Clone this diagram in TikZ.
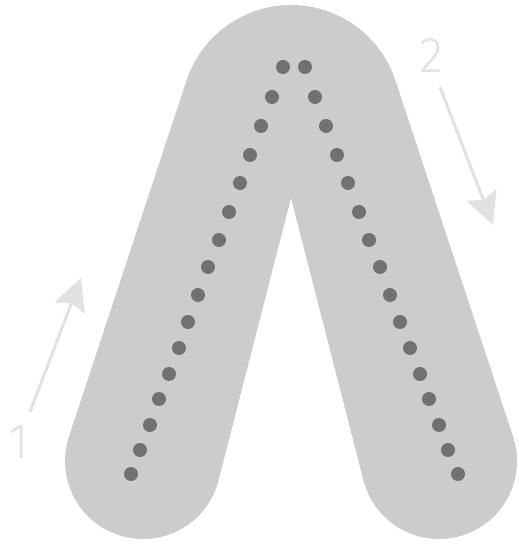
\documentclass[tikz,border=0pt]{standalone}
\usepackage{fontspec}
\newfontfamily\labelfont{Fira Sans Light}
\usetikzlibrary{calc,arrows.meta}
\definecolor{bandgray}{HTML}{CCCCCC}
\definecolor{dotgray}{HTML}{717171}
\definecolor{palegray}{HTML}{E2E2E2}
\tikzset{
  band/.style={fill=bandgray, draw=none},
  dotmark/.style={fill=dotgray, draw=none},
  flowarrow/.style={draw=palegray, line width=3pt,
    -{Stealth[length=32pt, width=32pt, inset=5pt]}},
  steplabel/.style={text=palegray, font=\labelfont\fontsize{50}{50}\selectfont, inner sep=0pt}
}
\begin{document}
\begin{tikzpicture}[x=1pt,y=1pt]
\useasboundingbox (0,0) rectangle (519,544);
% geometry (y measured upward)
\coordinate (T) at (291,429);
\coordinate (CL) at (143,83);
\coordinate (CR) at (439,83);
\coordinate (A) at (291,346);
% the inverted V band
\fill[band] (A) -- ($(CL)+(-13.8:78)$) arc[start angle=-13.8, end angle=-198, radius=78]
  -- ($(T)+(162:110)$) arc[start angle=162, end angle=18, radius=110]
  -- ($(CR)+(18:78)$) arc[start angle=18, end angle=-166.2, radius=78]
  -- cycle;
% dotted paths
\foreach \yy/\xl/\xr in {67/283/305, 97/272/315, 126/261/326, 155/250/337,
  183/240/348, 212/229/359, 240/219/369, 267/208/380, 295/198/390,
  322/188/400, 348/179/410, 374/169/420, 399/159/429, 425/150/439,
  450/140/448, 474/131/458}{
  \fill[dotmark] (\xl,544-\yy) circle (7);
  \fill[dotmark] (\xr,544-\yy) circle (7);
}
% step labels and arrows
\node[steplabel] (one) at (19,102) {1};
\node[steplabel] (two) at (431,488) {2};
\coordinate (a1s) at (30,132);
\coordinate (a1e) at (81,266);
\coordinate (a2s) at (440,457);
\coordinate (a2e) at (493,319);
\draw[flowarrow] (a1s) -- (a1e);
\draw[flowarrow] (a2s) -- (a2e);
\end{tikzpicture}
\end{document}
